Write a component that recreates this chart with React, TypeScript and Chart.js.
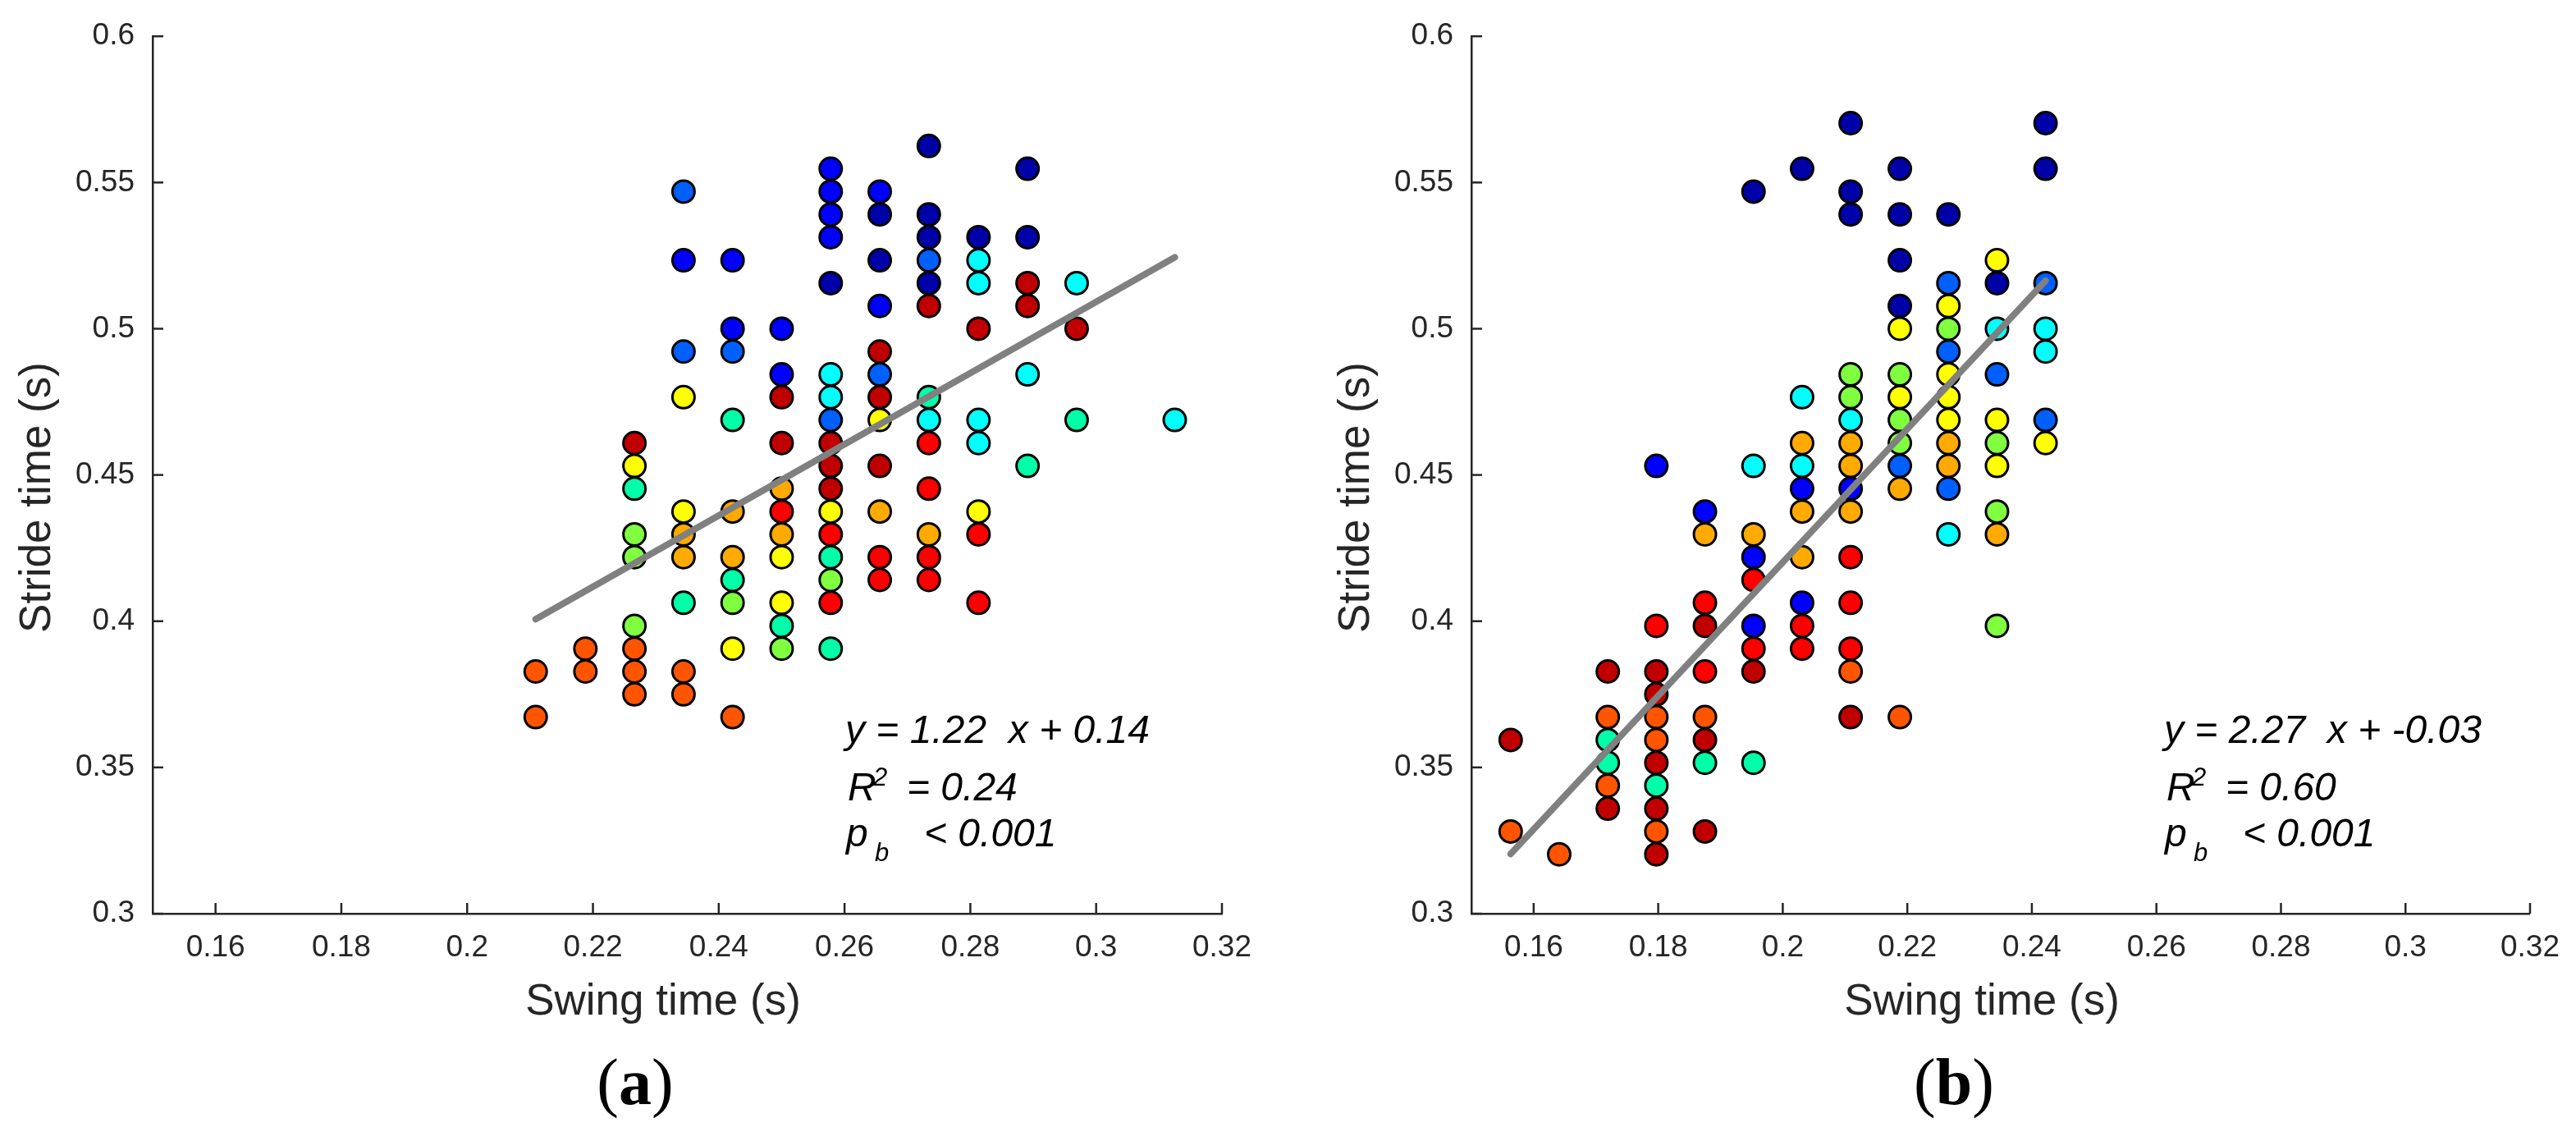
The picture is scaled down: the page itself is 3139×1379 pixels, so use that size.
import React, { useEffect, useRef } from 'react';
import { Chart, registerables } from 'chart.js';

Chart.register(...registerables);

// ---------- axis ticks and titles ----------
const xTicks = [0.16, 0.18, 0.2, 0.22, 0.24, 0.26, 0.28, 0.3, 0.32];
const xTickLabels = ['0.16', '0.18', '0.2', '0.22', '0.24', '0.26', '0.28', '0.3', '0.32'];
const yTicks = [0.3, 0.35, 0.4, 0.45, 0.5, 0.55, 0.6];
const yTickLabels = ['0.3', '0.35', '0.4', '0.45', '0.5', '0.55', '0.6'];
const xTitle = 'Swing time (s)';
const yTitle = 'Stride time (s)';

// ---------- panel (a) ----------
const swingA = [0.2109, 0.2188, 0.2266, 0.2344, 0.2422, 0.25, 0.2578, 0.2656, 0.2734, 0.2813, 0.2891, 0.2969, 0.3125];
const strideA = [
  [0.3828, 0.3672],
  [0.3906, 0.3828],
  [0.4609, 0.4531, 0.4453, 0.4297, 0.4219, 0.3984, 0.3906, 0.3828, 0.375],
  [0.5469, 0.5234, 0.4922, 0.4766, 0.4375, 0.4297, 0.4219, 0.4063, 0.3828, 0.375],
  [0.5234, 0.5, 0.4922, 0.4688, 0.4375, 0.4219, 0.4141, 0.4063, 0.3906, 0.3672],
  [0.5, 0.4844, 0.4766, 0.4609, 0.4453, 0.4375, 0.4297, 0.4219, 0.4063, 0.3984, 0.3906],
  [0.5547, 0.5469, 0.5391, 0.5313, 0.5156, 0.4844, 0.4766, 0.4688, 0.4609, 0.4531, 0.4453, 0.4375, 0.4297, 0.4219, 0.4141, 0.4063, 0.3906],
  [0.5469, 0.5391, 0.5234, 0.5078, 0.4922, 0.4844, 0.4766, 0.4688, 0.4531, 0.4375, 0.4219, 0.4141],
  [0.5625, 0.5391, 0.5313, 0.5234, 0.5156, 0.5078, 0.4766, 0.4688, 0.4609, 0.4453, 0.4297, 0.4219, 0.4141],
  [0.5313, 0.5234, 0.5156, 0.5, 0.4688, 0.4609, 0.4375, 0.4297, 0.4063],
  [0.5547, 0.5313, 0.5156, 0.5078, 0.4844, 0.4531],
  [0.5156, 0.5, 0.4688],
  [0.4688],
];
const subjectA = [
  'EE', 'EE', 'DYALLLEEE', 'MBMYYOOAEE', 'BBMAOOALYE', 'BBDDOROYYAL',
  'BBBBNCCMDDDYRALRA', 'BNNBDMDYDORR', 'NNNMNDACRRORR', 'NCCDCCYRR', 'NNDDCA', 'CDA', 'C',
];
const fitXA = [0.2109, 0.3125];
const fitYA = [0.4007, 0.5244];
const annotA = ['y = 1.22  x + 0.14', '= 0.24', '< 0.001'];

// ---------- panel (b) ----------
const swingB = [0.1563, 0.1641, 0.1719, 0.1797, 0.1875, 0.1953, 0.2031, 0.2109, 0.2188, 0.2266, 0.2344, 0.2422];
const strideB = [
  [0.3594, 0.3281],
  [0.3203],
  [0.3828, 0.3672, 0.3594, 0.3516, 0.3438, 0.3359],
  [0.4531, 0.3984, 0.3828, 0.375, 0.3672, 0.3594, 0.3516, 0.3438, 0.3359, 0.3281, 0.3203],
  [0.4375, 0.4297, 0.4063, 0.3984, 0.3828, 0.3672, 0.3594, 0.3516, 0.3281],
  [0.5469, 0.4531, 0.4297, 0.4219, 0.4141, 0.3984, 0.3906, 0.3828, 0.3516],
  [0.5547, 0.4766, 0.4609, 0.4531, 0.4453, 0.4375, 0.4219, 0.4063, 0.3984, 0.3906],
  [0.5703, 0.5469, 0.5391, 0.4844, 0.4766, 0.4688, 0.4609, 0.4531, 0.4453, 0.4375, 0.4219, 0.4063, 0.3906, 0.3828, 0.3672],
  [0.5547, 0.5391, 0.5234, 0.5078, 0.5, 0.4844, 0.4766, 0.4688, 0.4609, 0.4531, 0.4453, 0.3672],
  [0.5391, 0.5156, 0.5078, 0.5, 0.4922, 0.4844, 0.4766, 0.4688, 0.4609, 0.4531, 0.4453, 0.4297],
  [0.5234, 0.5156, 0.5, 0.4844, 0.4688, 0.4609, 0.4531, 0.4375, 0.4297, 0.3984],
  [0.5703, 0.5547, 0.5156, 0.5, 0.4922, 0.4688, 0.4609],
];
const subjectB = [
  'DE', 'E', 'DEAAED', 'BRDDEEDADED', 'BORDREDAD', 'NCOBRBRDA', 'NCOCBOOBRR',
  'NNNLLCOOBORRRED', 'NNNNYLYLLMOE', 'NMYLMYYYOOMC', 'YNCMYLYLOL', 'NNMCCMY',
];
const fitXB = [0.1563, 0.2422];
const fitYB = [0.3204, 0.5164];
const annotB = ['y = 2.27  x + -0.03', '= 0.60', '< 0.001'];

// ---------- styles ----------
const palette: Record<string, string> = {
  N: '#0000A8', B: '#0000FF', M: '#0060FF', C: '#00FFFF', A: '#00FFA8', L: '#80FF40',
  Y: '#FFFF00', O: '#FFAA00', E: '#FF5500', R: '#FF0000', D: '#C00000',
};
const axisColor = '#262626';
const sans = '"Liberation Sans", Arial, Helvetica, sans-serif';
const serif = '"Liberation Serif", "Times New Roman", serif';

type Panel = {
  id: string;
  label: string;
  swing: number[];
  stride: number[][];
  subject: string[];
  fitX: number[];
  fitY: number[];
  annot: string[];
  left: number;
  width: number;
  yAxisW: number;
  padRight: number;
};

function ScatterPanel({ p }: { p: Panel }) {
  const ref = useRef<HTMLCanvasElement | null>(null);
  useEffect(() => {
    const canvas = ref.current;
    if (!canvas) return;
    const pts: { x: number; y: number }[] = [];
    const cols: string[] = [];
    p.swing.forEach((sx, i) => {
      p.stride[i].forEach((sy, j) => {
        pts.push({ x: sx, y: sy });
        cols.push(palette[p.subject[i][j]]);
      });
    });
    const fit = p.fitX.map((x, i) => ({ x, y: p.fitY[i] }));

    const decor = {
      id: 'decor' + p.id,
      afterDraw(chart: any) {
        const ctx = chart.ctx as CanvasRenderingContext2D;
        const { left, bottom } = chart.chartArea;
        const xs = chart.scales.x;
        const ys = chart.scales.y;
        ctx.save();
        ctx.strokeStyle = axisColor;
        ctx.lineWidth = 2.5;
        xs.ticks.forEach((t: any) => {
          const px = xs.getPixelForValue(t.value);
          ctx.beginPath();
          ctx.moveTo(px, bottom);
          ctx.lineTo(px, bottom - 13);
          ctx.stroke();
        });
        ys.ticks.forEach((t: any) => {
          const py = ys.getPixelForValue(t.value);
          ctx.beginPath();
          ctx.moveTo(left, py);
          ctx.lineTo(left + 13, py);
          ctx.stroke();
        });
        // axis titles
        ctx.fillStyle = axisColor;
        ctx.font = `53px ${sans}`;
        ctx.textBaseline = 'alphabetic';
        ctx.textAlign = 'center';
        ctx.fillText(xTitle, left + 622, 1236);
        ctx.save();
        ctx.translate(left - 125, 606);
        ctx.rotate(-Math.PI / 2);
        ctx.fillText(yTitle, 0, 0);
        ctx.restore();
        // regression annotation
        ctx.fillStyle = '#000';
        ctx.textAlign = 'left';
        ctx.font = `italic 48px ${sans}`;
        ctx.fillText(p.annot[0], left + 844, 905);
        ctx.fillText('R', left + 847, 975);
        ctx.fillText(p.annot[1], left + 919, 975);
        ctx.fillText('p', left + 845, 1031);
        ctx.fillText(p.annot[2], left + 940, 1031);
        ctx.font = `italic 31px ${sans}`;
        ctx.fillText('2', left + 878, 957);
        ctx.fillText('b', left + 880, 1049);
        // panel label
        ctx.fillStyle = '#000';
        const fN = `80px ${serif}`;
        const fB = `bold 80px ${serif}`;
        ctx.font = fN;
        const wl = ctx.measureText('(').width;
        const wr = ctx.measureText(')').width;
        ctx.font = fB;
        const wa = ctx.measureText(p.label).width;
        let x0 = left + 588 - (wl + wa + wr) / 2;
        ctx.font = fN;
        ctx.fillText('(', x0, 1345);
        x0 += wl;
        ctx.font = fB;
        ctx.fillText(p.label, x0, 1345);
        x0 += wa;
        ctx.font = fN;
        ctx.fillText(')', x0, 1345);
        ctx.restore();
      },
    };

    const tickFont = { family: sans, size: 37 };
    const chart = new Chart(canvas, {
      type: 'scatter',
      data: {
        datasets: [
          {
            type: 'line',
            data: fit,
            borderColor: '#808080',
            borderWidth: 8,
            borderCapStyle: 'round',
            pointRadius: 0,
            fill: false,
            order: 0,
          } as any,
          {
            data: pts,
            pointRadius: 13.5,
            pointHoverRadius: 13.5,
            pointBackgroundColor: cols,
            pointBorderColor: '#000',
            pointBorderWidth: 3,
            order: 1,
          } as any,
        ],
      },
      options: {
        animation: false,
        responsive: false,
        maintainAspectRatio: false,
        events: [],
        layout: { padding: { left: 0, top: 37, right: p.padRight, bottom: 0 } },
        plugins: { legend: { display: false }, tooltip: { enabled: false }, title: { display: false } },
        scales: {
          x: {
            type: 'linear',
            min: 0.15,
            max: 0.32,
            afterBuildTicks: (s: any) => {
              s.ticks = xTicks.map((v) => ({ value: v }));
            },
            afterFit: (s: any) => {
              s.height = 1379 - 1113;
            },
            ticks: {
              autoSkip: false,
              maxRotation: 0,
              minRotation: 0,
              padding: 20,
              color: axisColor,
              font: tickFont,
              callback: (_v: any, i: number) => xTickLabels[i],
            },
            grid: { display: false, drawTicks: false },
            border: { display: true, color: axisColor, width: 2.5 },
          },
          y: {
            type: 'linear',
            min: 0.3,
            max: 0.6,
            afterBuildTicks: (s: any) => {
              s.ticks = yTicks.map((v) => ({ value: v }));
            },
            afterFit: (s: any) => {
              s.width = p.yAxisW;
            },
            ticks: {
              autoSkip: false,
              padding: 22,
              color: axisColor,
              font: tickFont,
              callback: (_v: any, i: number) => yTickLabels[i],
            },
            grid: { display: false, drawTicks: false },
            border: { display: true, color: axisColor, width: 2.5 },
          },
        },
      } as any,
      plugins: [decor],
    });
    return () => chart.destroy();
  }, [p]);

  return (
    <canvas
      ref={ref}
      width={p.width}
      height={1379}
      style={{ position: 'absolute', left: p.left, top: 0, width: p.width, height: 1379 }}
    />
  );
}

const panelA: Panel = {
  id: 'a', label: 'a', swing: swingA, stride: strideA, subject: subjectA,
  fitX: fitXA, fitY: fitYA, annot: annotA, left: 0, width: 1569, yAxisW: 186, padRight: 80,
};
const panelB: Panel = {
  id: 'b', label: 'b', swing: swingB, stride: strideB, subject: subjectB,
  fitX: fitXB, fitY: fitYB, annot: annotB, left: 1569, width: 1570, yAxisW: 224, padRight: 44,
};

export default function App() {
  return (
    <div style={{ position: 'absolute', left: 0, top: 0, width: 3139, height: 1379, background: '#fff', overflow: 'hidden' }}>
      <ScatterPanel p={panelA} />
      <ScatterPanel p={panelB} />
    </div>
  );
}
